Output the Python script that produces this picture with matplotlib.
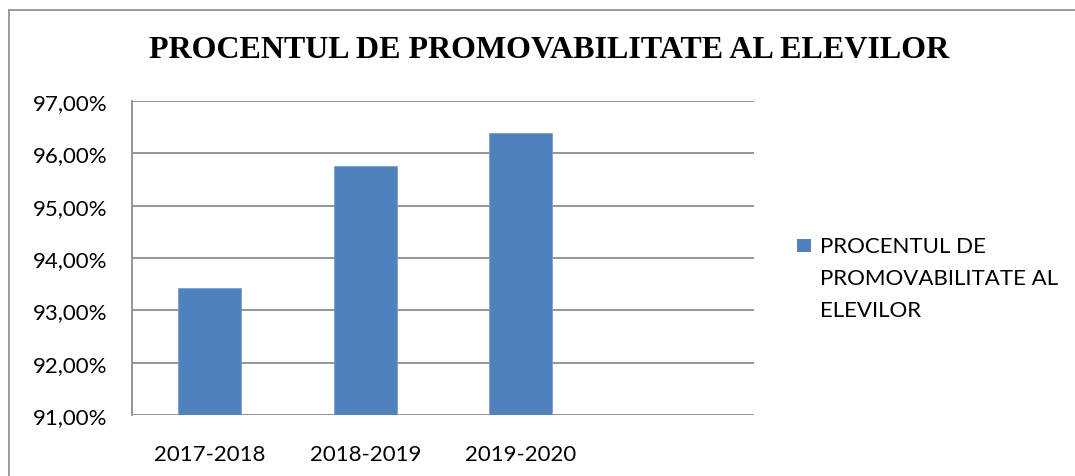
import matplotlib
matplotlib.use("Agg")
import matplotlib.pyplot as plt
from matplotlib.patches import Rectangle
from matplotlib.lines import Line2D
from matplotlib.ticker import FuncFormatter

categories = ["2017-2018", "2018-2019", "2019-2020", ""]
values = [93.43, 95.75, 96.39, None]
title = "PROCENTUL DE PROMOVABILITATE AL ELEVILOR"
legend_label = "PROCENTUL DE\nPROMOVABILITATE AL\nELEVILOR"
yticks = [91, 92, 93, 94, 95, 96, 97]

bar_color = "#4F81BD"
grid_color = "#8C8C8C"
tick_font = ["Lato", "DejaVu Sans"]
fs = 16

fig = plt.figure(figsize=(10.75, 4.77), dpi=100)
ax = fig.add_axes([132 / 1075, 1 - 416 / 477, (754 - 132) / 1075, (416 - 102) / 477])

xs = [i for i, v in enumerate(values) if v is not None]
vals = [v for v in values if v is not None]
ax.bar(xs, [v - 91 for v in vals], bottom=91, width=0.405, color=bar_color,
       edgecolor="#7FA1CF", linewidth=0.6, zorder=3)

ax.set_xlim(-0.5, len(categories) - 0.5)
ax.set_ylim(91, 97)
ax.set_yticks(yticks)
ax.yaxis.set_major_formatter(FuncFormatter(lambda v, p: f"{v:.2f}".replace(".", ",") + "%"))
ax.set_xticks(range(len(categories)))
ax.set_xticklabels(categories)
ax.grid(axis="y", color=grid_color, linewidth=1.3, zorder=0)
ax.tick_params(axis="both", length=0, labelsize=fs, colors="black")
ax.tick_params(axis="y", pad=18)
ax.tick_params(axis="x", pad=21)
for lab in ax.get_xticklabels() + ax.get_yticklabels():
    lab.set_family(tick_font)
for s in ["top", "right", "bottom"]:
    ax.spines[s].set_visible(False)
ax.spines["left"].set_color(grid_color)
ax.spines["left"].set_linewidth(1.3)

fig.text(549 / 1075, 1 - 50 / 477, title, ha="center", va="center",
         family=["Liberation Serif"], fontweight="bold", fontsize=23)

# legend
fig.patches.append(Rectangle((797 / 1075, 1 - 253 / 477), 14 / 1075, 13 / 477,
                             transform=fig.transFigure, facecolor=bar_color,
                             edgecolor="none"))
fig.text(820 / 1075, 1 - 237 / 477, legend_label, ha="left", va="top",
         family=tick_font, fontsize=fs, linespacing=1.75)

# outer frame (partial)
fig.add_artist(Line2D([9 / 1075, 1.0], [1 - 11 / 477, 1 - 11 / 477],
                      transform=fig.transFigure, color="#8C8C8C", linewidth=1.2))
fig.add_artist(Line2D([9 / 1075, 9 / 1075], [1 - 11 / 477, 0.0],
                      transform=fig.transFigure, color="#8C8C8C", linewidth=1.2))

fig.savefig("out.png", dpi=100)
